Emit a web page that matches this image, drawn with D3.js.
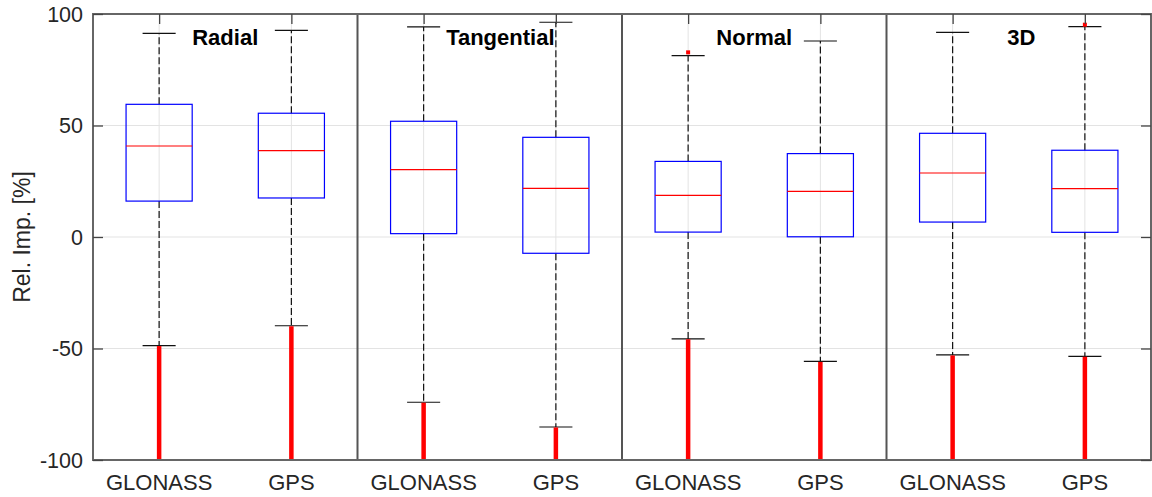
<!DOCTYPE html>
<html>
<head>
<meta charset="utf-8">
<script src="https://cdn.jsdelivr.net/npm/d3@7"></script>
<style>
  html, body { margin: 0; padding: 0; background: #fff; }
  svg { display: block; font-family: "Liberation Sans", Arial, sans-serif; }
</style>
</head>
<body>
<svg id="chart" width="1152" height="497"></svg>
<script>
// Box-plot statistics per constellation and component (relative improvement, %)
const categories = ["GLONASS", "GPS", "GLONASS", "GPS", "GLONASS", "GPS", "GLONASS", "GPS"];
const upperWhisker = [91.3, 92.7, 94.2, 96.3, 81.3, 87.9, 91.8, 94.3];
const q3Values     = [59.5, 55.5, 51.9, 44.7, 33.9, 37.4, 46.5, 38.9];
const medians      = [40.8, 38.7, 30.2, 21.8, 18.7, 20.5, 28.7, 21.7];
const q1Values     = [16.1, 17.5,  1.5, -7.3,  2.2,  0.1,  6.7,  2.1];
const lowerWhisker = [-48.7, -39.8, -74.1, -85.2, -45.7, -55.8, -52.9, -53.5];
// Low outliers run continuously from just below the lower whisker down past the axis limit
const outlierTop    = [-48.9, -40.0, -74.3, -85.4, -45.9, -56.0, -53.1, -53.7];
const outlierBottom = [-110, -110, -110, -110, -110, -110, -110, -110];
// Isolated high outliers: [category index, value]
const highOutliers = [[4, 82.8], [7, 95.2]];
// Component panels: title, anchor position (category units), separator after it
const panelTitles = ["Radial", "Tangential", "Normal", "3D"];
const titlePos    = [1.5, 3.58, 5.5, 7.52];
const separators  = [2.5, 4.5, 6.5];
const yTicks = [-100, -50, 0, 50, 100];

const svg = d3.select("#chart");
const mLeft = 93, mRight = 1151, mTop = 14, mBottom = 460;

const x = d3.scaleLinear().domain([0.5, 8.5]).range([mLeft, mRight]);
const y = d3.scaleLinear().domain([-100, 100]).range([mBottom, mTop]);
const idx = d3.range(categories.length);
const pos = i => x(i + 1);

const textColor = "#262626";

svg.append("defs").append("clipPath").attr("id", "plotClip")
  .append("rect").attr("x", mLeft).attr("y", mTop)
  .attr("width", mRight - mLeft).attr("height", mBottom - mTop);

// Grid
const grid = svg.append("g").attr("stroke", "#e3e3e3").attr("stroke-width", 1);
grid.selectAll(".gy").data(yTicks).join("line")
  .attr("x1", mLeft).attr("x2", mRight)
  .attr("y1", d => y(d)).attr("y2", d => y(d));
grid.selectAll(".gx").data(idx).join("line")
  .attr("x1", pos).attr("x2", pos)
  .attr("y1", mTop).attr("y2", mBottom);

const plot = svg.append("g").attr("clip-path", "url(#plotClip)");

// Whiskers (dashed)
plot.selectAll(".wu").data(idx).join("line")
  .attr("x1", pos).attr("x2", pos)
  .attr("y1", i => y(q3Values[i])).attr("y2", i => y(upperWhisker[i]))
  .attr("stroke", "#111").attr("stroke-width", 1.2).attr("stroke-dasharray", "7,3");
plot.selectAll(".wl").data(idx).join("line")
  .attr("x1", pos).attr("x2", pos)
  .attr("y1", i => y(q1Values[i])).attr("y2", i => y(lowerWhisker[i]))
  .attr("stroke", "#111").attr("stroke-width", 1.2).attr("stroke-dasharray", "7,3");

// Whisker caps
const capHalf = 0.125;
plot.selectAll(".cu").data(idx).join("line")
  .attr("x1", i => x(i + 1 - capHalf)).attr("x2", i => x(i + 1 + capHalf))
  .attr("y1", i => y(upperWhisker[i])).attr("y2", i => y(upperWhisker[i]))
  .attr("stroke", "#111").attr("stroke-width", 1.2);
plot.selectAll(".cl").data(idx).join("line")
  .attr("x1", i => x(i + 1 - capHalf)).attr("x2", i => x(i + 1 + capHalf))
  .attr("y1", i => y(lowerWhisker[i])).attr("y2", i => y(lowerWhisker[i]))
  .attr("stroke", "#111").attr("stroke-width", 1.2);

// Boxes
const boxHalf = 0.25;
plot.selectAll(".box").data(idx).join("rect")
  .attr("x", i => x(i + 1 - boxHalf))
  .attr("width", i => x(i + 1 + boxHalf) - x(i + 1 - boxHalf))
  .attr("y", i => y(q3Values[i]))
  .attr("height", i => y(q1Values[i]) - y(q3Values[i]))
  .attr("fill", "none").attr("stroke", "#0000ff").attr("stroke-width", 1.2);

// Medians
plot.selectAll(".med").data(idx).join("line")
  .attr("x1", i => x(i + 1 - boxHalf)).attr("x2", i => x(i + 1 + boxHalf))
  .attr("y1", i => y(medians[i])).attr("y2", i => y(medians[i]))
  .attr("stroke", "#ff0000").attr("stroke-width", 1.2);

// Outliers: dense runs of '+' markers drawn as a solid red band
plot.selectAll(".out").data(idx).join("line")
  .attr("x1", pos).attr("x2", pos)
  .attr("y1", i => y(outlierTop[i])).attr("y2", i => y(outlierBottom[i]))
  .attr("stroke", "#ff0000").attr("stroke-width", 4.5);
plot.selectAll(".hout").data(highOutliers).join("rect")
  .attr("x", d => x(d[0] + 1) - 2).attr("y", d => y(d[1]) - 2)
  .attr("width", 4).attr("height", 4).attr("fill", "#ff0000");

// Panel separators
svg.selectAll(".sep").data(separators).join("line")
  .attr("x1", d => x(d)).attr("x2", d => x(d))
  .attr("y1", mTop).attr("y2", mBottom)
  .attr("stroke", "#555").attr("stroke-width", 2);

// Axes frame
svg.append("rect").attr("x", mLeft).attr("y", mTop)
  .attr("width", mRight - mLeft).attr("height", mBottom - mTop)
  .attr("fill", "none").attr("stroke", "#666").attr("stroke-width", 2);

// Y axis (ticks inside, mirrored on the right)
const yAxisL = svg.append("g").attr("transform", `translate(${mLeft},0)`)
  .call(d3.axisRight(y).tickValues(yTicks).tickSize(10).tickFormat(""));
const yAxisR = svg.append("g").attr("transform", `translate(${mRight},0)`)
  .call(d3.axisLeft(y).tickValues(yTicks).tickSize(10).tickFormat(""));
// X ticks at top, pointing in
const xAxisT = svg.append("g").attr("transform", `translate(0,${mTop})`)
  .call(d3.axisBottom(x).tickValues(idx.map(i => i + 1)).tickSize(10).tickFormat(""));
[yAxisL, yAxisR, xAxisT].forEach(g => {
  g.select(".domain").remove();
  g.selectAll(".tick line").attr("stroke", "#444").attr("stroke-width", 1.3);
});

// Y tick labels
svg.append("g").selectAll("text").data(yTicks).join("text")
  .attr("x", 83).attr("y", d => y(d)).attr("dy", "0.36em")
  .attr("text-anchor", "end").attr("font-size", 21.5).attr("fill", textColor)
  .text(d => d);

// X tick labels
svg.append("g").selectAll("text").data(idx).join("text")
  .attr("x", pos).attr("y", 490)
  .attr("text-anchor", "middle").attr("font-size", 22).attr("fill", textColor)
  .text(i => categories[i]);

// Y axis label
svg.append("text")
  .attr("transform", `translate(30,${(mTop + mBottom) / 2}) rotate(-90)`)
  .attr("text-anchor", "middle").attr("font-size", 23).attr("fill", textColor)
  .text("Rel. Imp. [%]");

// Panel titles
svg.append("g").selectAll("text").data(panelTitles).join("text")
  .attr("x", (d, i) => x(titlePos[i])).attr("y", y(86.1))
  .attr("text-anchor", "middle").attr("font-size", 22).attr("font-weight", "bold")
  .attr("fill", "#000")
  .text(d => d);
</script>
</body>
</html>
